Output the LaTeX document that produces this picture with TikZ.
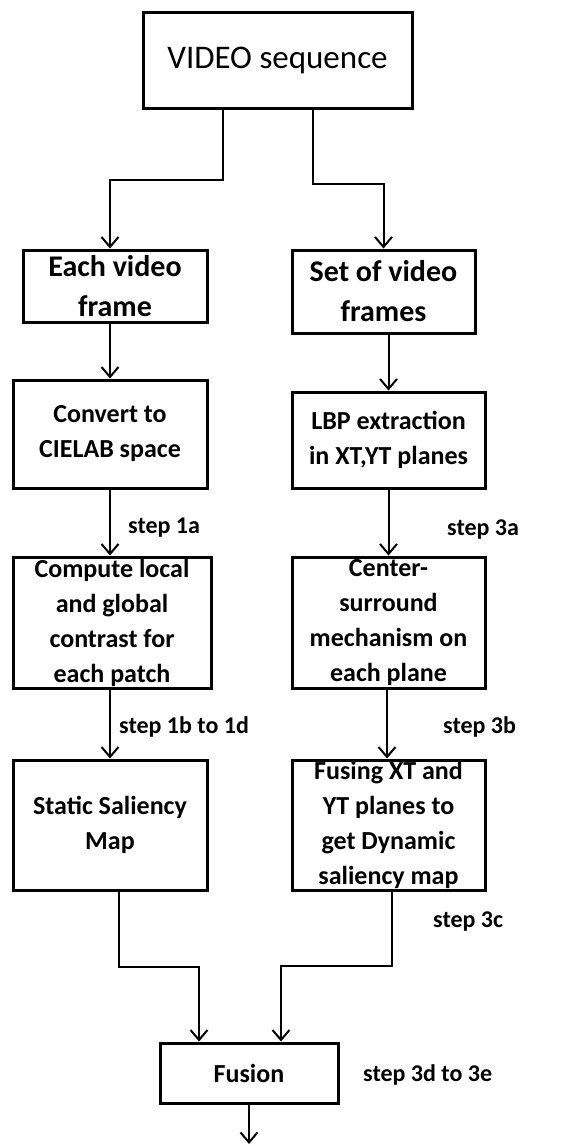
\documentclass[tikz,border=0pt]{standalone}
\usepackage{fontspec}
\setmainfont{Carlito}
\usetikzlibrary{arrows.meta}

\begin{document}
\begin{tikzpicture}[x=1pt,y=-1pt,
        box/.style={draw,line width=3pt,inner sep=0pt,align=center,
            font=\bfseries\fontsize{26}{35}\selectfont},
        big/.style={font=\bfseries\fontsize{30}{40}\selectfont},
        lbl/.style={anchor=west,inner sep=0pt,font=\bfseries\fontsize{24}{28}\selectfont},
        arr/.style={line width=2pt,-{Straight Barb[length=10pt,width=17pt]}}]
        \useasboundingbox (0,0) rectangle (578,1146);

        \node[draw,line width=3pt,minimum width=269pt,minimum height=96pt,
            font=\fontsize{33}{40}\selectfont] (vid) at (277.5,60) {VIDEO sequence};
        \node[box,big,minimum width=184pt,minimum height=72pt] (each) at (115,286) {Each video\\frame};
        \node[box,big,minimum width=183pt,minimum height=83pt] (set) at (383.5,291.5) {Set of video\\frames};
        \node[box,minimum width=194pt,minimum height=108pt] (conv) at (110,434) {Convert to\\CIELAB space};
        \node[box,minimum width=193pt,minimum height=96pt] (lbp) at (388.5,440) {LBP extraction\\in XT,YT planes};
        \node[box,minimum width=198pt,minimum height=131pt] (comp) at (112,622.5) {Compute local\\and global\\contrast for\\each patch};
        \node[box,minimum width=193pt,minimum height=131pt] (cen) at (388.5,622.5) {Center-\\surround\\mechanism on\\each plane};
        \node[box,minimum width=194pt,minimum height=130pt] (stat) at (110,825) {Static Saliency\\Map};
        \node[box,minimum width=193pt,minimum height=130pt] (fus) at (388.5,825) {Fusing XT and\\YT planes to\\get Dynamic\\saliency map};
        \node[box,minimum width=178pt,minimum height=60pt] (fusion) at (249,1073) {Fusion};
        \coordinate (out) at (249,1144);

        \node[lbl] (s1a) at (128,528) {step 1a};
        \node[lbl] (s3a) at (447,530) {step 3a};
        \node[lbl] (s1b) at (119,727) {step 1b to 1d};
        \node[lbl] (s3b) at (443,727) {step 3b};
        \node[lbl] (s3c) at (433,922) {step 3c};
        \node[lbl] (s3d) at (363,1075) {step 3d to 3e};

        \draw[arr] ([xshift=-54.5pt]vid.south) |- ++(0,70) -| ([xshift=-5pt]each.north);
        \draw[arr] ([xshift=35.5pt]vid.south) |- ++(0,74) -| (set.north);
        \draw[arr] (conv.north |- each.south) -- (conv.north);
        \draw[arr] (lbp.north |- set.south) -- (lbp.north);
        \draw[arr] (conv.south) -- (conv.south |- comp.north);
        \draw[arr] (lbp.south) -- (lbp.south |- cen.north);
        \draw[arr] (stat.north |- comp.south) -- (stat.north);
        \draw[arr] ([xshift=-1.5pt]cen.south) -- ([xshift=-1.5pt]fus.north);
        \draw[arr] ([xshift=9pt]stat.south) |- ++(0,75) -| ([xshift=-50pt]fusion.north);
        \draw[arr] ([xshift=3.5pt]fus.south) |- ++(0,74) -| ([xshift=32pt]fusion.north);
        \draw[arr] (fusion.south) -- (out);
    \end{tikzpicture}
\end{document}
